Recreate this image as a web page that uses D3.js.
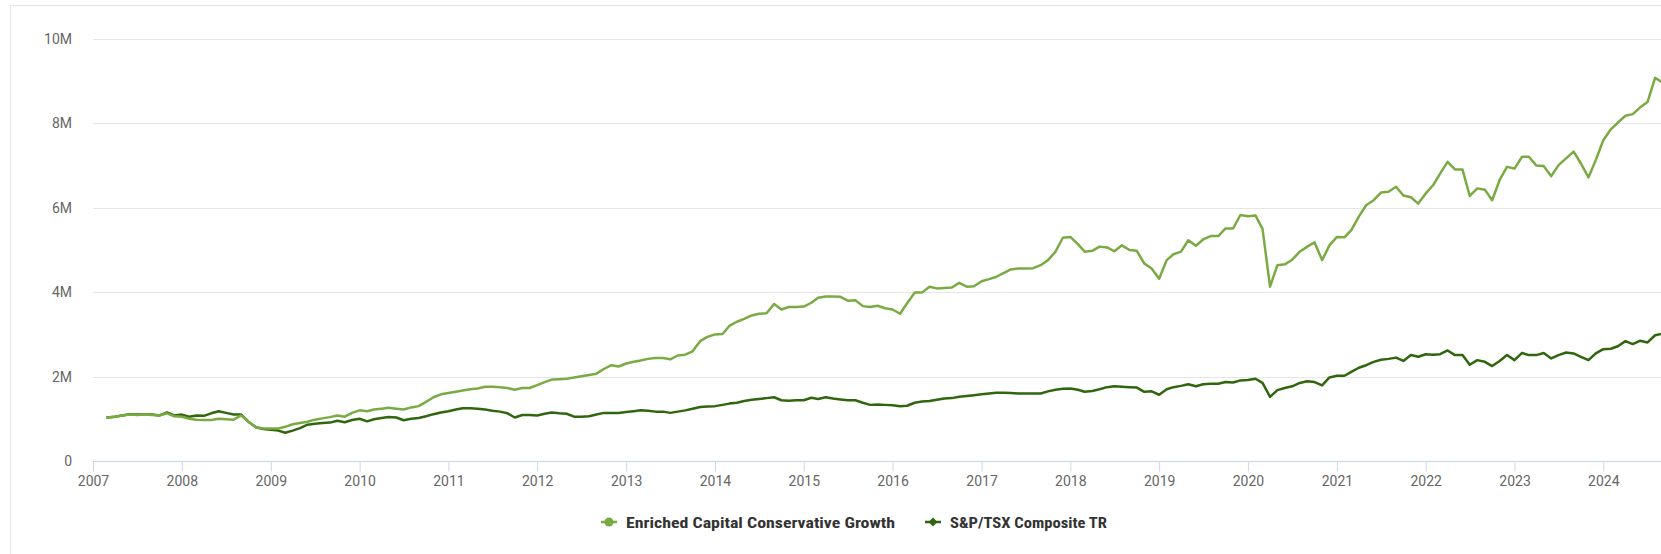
<!DOCTYPE html>
<html>
<head>
<meta charset="utf-8">
<script src="https://cdn.jsdelivr.net/npm/d3@7/dist/d3.min.js"></script>
<style>
  html, body { margin: 0; padding: 0; background: #fff; }
  svg { display: block; }
</style>
</head>
<body>
<div id="chart"></div>
<script>
// monthly values (in millions), first point = Mar 2007
const firstMonth = Date.UTC(2007, 2, 1);

const enriched = [
  1.03, 1.05, 1.08, 1.10, 1.09, 1.10, 1.09, 1.08, 1.13, 1.06,
  1.05, 1.00, 0.98, 0.97, 0.97, 1.00, 0.99, 0.98, 1.08, 0.93, 0.80, 0.77,
  0.77, 0.77, 0.81, 0.87, 0.90, 0.93, 0.98, 1.01, 1.04, 1.08, 1.05, 1.14,
  1.20, 1.18, 1.22, 1.24, 1.26, 1.24, 1.22, 1.27, 1.30, 1.40, 1.51, 1.58,
  1.61, 1.64, 1.67, 1.70, 1.72, 1.76, 1.76, 1.75, 1.73, 1.69, 1.73, 1.73,
  1.80, 1.87, 1.93, 1.94, 1.95, 1.98, 2.01, 2.04, 2.07, 2.18, 2.27, 2.24,
  2.31, 2.35, 2.38, 2.42, 2.44, 2.44, 2.41, 2.50, 2.52, 2.60, 2.84, 2.94,
  3.00, 3.01, 3.20, 3.30, 3.37, 3.45, 3.49, 3.50, 3.72, 3.59, 3.65, 3.65,
  3.66, 3.75, 3.87, 3.90, 3.90, 3.89, 3.80, 3.81, 3.67, 3.65, 3.68, 3.62,
  3.59, 3.49, 3.74, 3.99, 3.99, 4.13, 4.09, 4.10, 4.11, 4.22, 4.13, 4.14,
  4.26, 4.31, 4.36, 4.45, 4.54, 4.56, 4.56, 4.57, 4.64, 4.76, 4.96, 5.29,
  5.31, 5.14, 4.96, 4.98, 5.08, 5.06, 4.97, 5.11, 5.00, 4.98, 4.68, 4.56,
  4.32, 4.76, 4.90, 4.96, 5.23, 5.10, 5.25, 5.33, 5.33, 5.51, 5.51, 5.83,
  5.80, 5.82, 5.50, 4.13, 4.64, 4.66, 4.77, 4.96, 5.08, 5.18, 4.76, 5.11,
  5.31, 5.30, 5.47, 5.79, 6.06, 6.18, 6.36, 6.38, 6.50, 6.29, 6.25, 6.10,
  6.34, 6.54, 6.81, 7.09, 6.91, 6.91, 6.28, 6.46, 6.43, 6.18, 6.66, 6.97,
  6.93, 7.21, 7.21, 7.00, 6.99, 6.75, 7.01, 7.17, 7.33, 7.05, 6.72, 7.13,
  7.60, 7.86, 8.02, 8.18, 8.22, 8.38, 8.51, 9.08, 8.97
];

const tsx = [
  1.03, 1.05, 1.08, 1.11, 1.10, 1.10, 1.10, 1.08, 1.15, 1.08,
  1.10, 1.05, 1.08, 1.07, 1.13, 1.18, 1.14, 1.10, 1.10, 0.93, 0.80, 0.76,
  0.74, 0.72, 0.67, 0.72, 0.78, 0.86, 0.88, 0.90, 0.91, 0.955, 0.92, 0.97,
  1.00, 0.94, 0.99, 1.02, 1.04, 1.03, 0.965, 1.00, 1.02, 1.06, 1.11, 1.15,
  1.18, 1.22, 1.25, 1.25, 1.24, 1.22, 1.19, 1.17, 1.13, 1.03, 1.09, 1.09,
  1.08, 1.12, 1.15, 1.13, 1.12, 1.05, 1.05, 1.06, 1.10, 1.14, 1.14, 1.14,
  1.16, 1.18, 1.20, 1.19, 1.17, 1.17, 1.14, 1.17, 1.20, 1.24, 1.28, 1.29,
  1.30, 1.33, 1.36, 1.38, 1.42, 1.45, 1.47, 1.49, 1.51, 1.44, 1.43, 1.44,
  1.44, 1.50, 1.47, 1.51, 1.48, 1.46, 1.44, 1.44, 1.38, 1.33, 1.34, 1.33,
  1.32, 1.30, 1.31, 1.38, 1.41, 1.42, 1.45, 1.48, 1.49, 1.52, 1.54, 1.56,
  1.58, 1.60, 1.62, 1.62, 1.61, 1.60, 1.60, 1.60, 1.60, 1.65, 1.69, 1.71,
  1.72, 1.69, 1.64, 1.66, 1.70, 1.75, 1.77, 1.76, 1.75, 1.74, 1.64, 1.65,
  1.57, 1.70, 1.75, 1.78, 1.82, 1.77, 1.82, 1.83, 1.83, 1.87, 1.86, 1.91,
  1.92, 1.95, 1.85, 1.52, 1.68, 1.73, 1.77, 1.85, 1.89, 1.87, 1.79, 1.98,
  2.02, 2.02, 2.11, 2.21, 2.27, 2.35, 2.40, 2.42, 2.45, 2.37, 2.51, 2.47,
  2.53, 2.52, 2.53, 2.62, 2.51, 2.51, 2.28, 2.39, 2.35, 2.25, 2.37, 2.51,
  2.39, 2.56, 2.51, 2.51, 2.56, 2.43, 2.51, 2.57, 2.55, 2.47, 2.39, 2.55,
  2.65, 2.66, 2.72, 2.84, 2.77, 2.85, 2.81, 2.98, 3.02
];

const yTicks = [0, 2e6, 4e6, 6e6, 8e6, 10e6];
const yTickLabels = ['0', '2M', '4M', '6M', '8M', '10M'];
const xYears = d3.range(2007, 2025);

const seriesNames = ['Enriched Capital Conservative Growth', 'S&P/TSX Composite TR'];
const seriesColors = ['#7aab43', '#2f660e'];

const width = 1661;
const height = 554;

const svg = d3.select('#chart')
  .append('svg')
  .attr('width', width)
  .attr('height', height);

// chart container border
svg.append('rect')
  .attr('x', 10.5)
  .attr('y', 5.5)
  .attr('width', 1800)
  .attr('height', 700)
  .attr('fill', '#fff')
  .attr('stroke', '#e6e6e6');

const x = d3.scaleUtc()
  .domain([new Date(Date.UTC(2007, 0, 1)), new Date(Date.UTC(2024, 0, 1))])
  .range([93, 1603.3]);

const y = d3.scaleLinear()
  .domain([0, 10e6])
  .range([461, 39]);

const months = enriched.map((_, i) => d3.utcMonth.offset(new Date(firstMonth), i));

// grid lines
svg.append('g')
  .attr('class', 'grid')
  .selectAll('line')
  .data(yTicks.filter((d) => d > 0))
  .join('line')
  .attr('x1', 93)
  .attr('x2', width)
  .attr('y1', (d) => Math.round(y(d)) + 0.5)
  .attr('y2', (d) => Math.round(y(d)) + 0.5)
  .attr('stroke', '#e6e6e6')
  .attr('stroke-width', 1);

// y labels
svg.append('g')
  .attr('class', 'y-labels')
  .selectAll('text')
  .data(yTicks)
  .join('text')
  .attr('x', 72)
  .attr('y', (d) => y(d) + 5)
  .attr('text-anchor', 'end')
  .style('font-family', 'Roboto, "Noto Sans", sans-serif')
  .style('font-size', '14px')
  .style('fill', '#666666')
  .text((d, i) => yTickLabels[i]);

// x axis
const xAxis = d3.axisBottom(x)
  .tickValues(xYears.map((yr) => new Date(Date.UTC(yr, 0, 1))))
  .tickFormat(d3.utcFormat('%Y'))
  .tickSize(10)
  .tickPadding(5);

const xg = svg.append('g')
  .attr('transform', 'translate(0,461.5)')
  .call(xAxis);

xg.select('.domain')
  .attr('d', `M93,0H${width}`)
  .attr('stroke', '#ccd6eb');
xg.selectAll('.tick line').attr('stroke', '#ccd6eb');
xg.selectAll('.tick text')
  .style('font-family', 'Roboto, "Noto Sans", sans-serif')
  .style('font-size', '14px')
  .style('fill', '#666666');

// lines
const line = d3.line()
  .x((d) => x(d.date))
  .y((d) => y(d.value * 1e6));

const series = [enriched, tsx].map((vals, s) => ({
  name: seriesNames[s],
  color: seriesColors[s],
  points: vals.map((v, i) => ({ date: months[i], value: v }))
}));

svg.append('g')
  .attr('class', 'lines')
  .selectAll('path')
  .data(series.slice().reverse())
  .join('path')
  .attr('d', (d) => line(d.points))
  .attr('fill', 'none')
  .attr('stroke', (d) => d.color)
  .attr('stroke-width', 2.5)
  .attr('stroke-linejoin', 'round')
  .attr('stroke-linecap', 'round');

// legend
const legendPos = [
  { sx: 601, tx: 626, w: 269 },
  { sx: 925, tx: 950, w: 157 }
];

const legend = svg.append('g')
  .attr('class', 'legend')
  .selectAll('g')
  .data(series)
  .join('g')
  .attr('transform', 'translate(0,522)');

legend.append('line')
  .attr('x1', (d, i) => legendPos[i].sx)
  .attr('x2', (d, i) => legendPos[i].sx + 16)
  .attr('stroke', (d) => d.color)
  .attr('stroke-width', 2.5);

legend.filter((d, i) => i === 0)
  .append('circle')
  .attr('cx', legendPos[0].sx + 8)
  .attr('r', 4.5)
  .attr('fill', (d) => d.color);

legend.filter((d, i) => i === 1)
  .append('path')
  .attr('d', d3.symbol(d3.symbolDiamond2, 50)())
  .attr('transform', `translate(${legendPos[1].sx + 8},0)`)
  .attr('fill', (d) => d.color);

legend.append('text')
  .attr('x', (d, i) => legendPos[i].tx)
  .attr('y', 5.5)
  .style('font-family', '"Roboto Condensed", "Liberation Sans Narrow", "Arial Narrow", Roboto, sans-serif')
  .style('font-weight', 'bold')
  .style('font-size', '15px')
  .style('fill', '#333333')
  .text((d) => d.name)
  .each(function (d, i) {
    const len = this.getComputedTextLength();
    if (Math.abs(len - legendPos[i].w) > 4) {
      d3.select(this)
        .attr('textLength', legendPos[i].w)
        .attr('lengthAdjust', 'spacingAndGlyphs');
    }
  });
</script>
</body>
</html>
